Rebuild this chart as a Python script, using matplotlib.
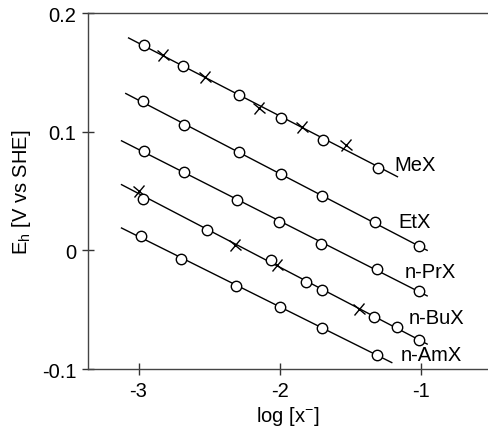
import matplotlib
matplotlib.use("Agg")
import matplotlib.pyplot as plt
import numpy as np
from matplotlib.markers import MarkerStyle
from matplotlib.transforms import Affine2D

plt.rcParams['font.family'] = ['Liberation Sans', 'DejaVu Sans']
plt.rcParams['mathtext.fontset'] = 'custom'
plt.rcParams['mathtext.rm'] = 'Liberation Sans'
plt.rcParams['mathtext.it'] = 'Liberation Sans:italic'

# series names and label anchor points (log x, Eh)
names = ['MeX', 'EtX', 'n-PrX', 'n-BuX', 'n-AmX']
label_x = [-1.19, -1.16, -1.12, -1.09, -1.15]
label_y = [0.072, 0.024, -0.018, -0.057, -0.088]

# fitted line extent per series
line_start = [-3.07, -3.09, -3.12, -3.12, -3.12]
line_end = [-1.17, -0.96, -0.96, -0.96, -1.21]

# open circle points
circ_x = [
    [-2.963, -2.686, -2.288, -1.993, -1.694, -1.307],
    [-2.970, -2.681, -2.292, -1.993, -1.703, -1.327, -1.020],
    [-2.963, -2.681, -2.304, -2.005, -1.710, -1.314, -1.020],
    [-2.968, -2.516, -2.061, -1.814, -1.703, -1.337, -1.173, -1.018],
    [-2.980, -2.698, -2.309, -2.002, -1.703, -1.314],
]
circ_y = [
    [0.1727, 0.1553, 0.1312, 0.1118, 0.0933, 0.0691],
    [0.1255, 0.1059, 0.0828, 0.0640, 0.0455, 0.0238, 0.0034],
    [0.0837, 0.0660, 0.0427, 0.0239, 0.0051, -0.0154, -0.0343],
    [0.0435, 0.0174, -0.0084, -0.0267, -0.0337, -0.0562, -0.0646, -0.0758],
    [0.0118, -0.0070, -0.0303, -0.0478, -0.0651, -0.0879],
]

# cross points
cross_x = [
    [-2.829, -2.532, -2.151, -1.845, -1.534],
    [],
    [],
    [-2.994, -2.316, -2.021, -1.443],
    [],
]
cross_y = [
    [0.1649, 0.1460, 0.1199, 0.1039, 0.0885],
    [],
    [],
    [0.0497, 0.0048, -0.0120, -0.0491],
    [],
]

fig = plt.figure(figsize=(4.88, 4.35), dpi=100)
ax = fig.add_axes([0.1803, 0.1494, 0.8197, 0.8184])

cross = MarkerStyle('x', transform=Affine2D().rotate_deg(10))

for i in range(len(names)):
    xs = np.array(circ_x[i] + cross_x[i])
    ys = np.array(circ_y[i] + cross_y[i])
    k, b = np.polyfit(xs, ys, 1)
    lx = np.array([line_start[i], line_end[i]])
    ax.plot(lx, k * lx + b, color='black', lw=1.0, zorder=2)
    if cross_x[i]:
        ax.plot(cross_x[i], cross_y[i], linestyle='none', marker=cross,
                markersize=8, color='black', mew=1.0, zorder=3)
    ax.plot(circ_x[i], circ_y[i], linestyle='none', marker='o',
            markersize=7.5, markerfacecolor='white', markeredgecolor='black',
            mew=1.0, zorder=4)
    ax.text(label_x[i], label_y[i], names[i], fontsize=14.5,
            ha='left', va='center')

ax.set_xlim(-3.357, -0.53)
ax.set_ylim(-0.1, 0.2)
ax.set_xticks([-3, -2, -1])
ax.set_xticklabels(['-3', '-2', '-1'])
ax.set_yticks([-0.1, 0, 0.1, 0.2])
ax.set_yticklabels(['-0.1', '0', '0.1', '0.2'])
ax.tick_params(direction='inout', length=9, width=1.0, labelsize=14.5,
               color='#333333', pad=4)
ax.spines['right'].set_visible(False)
for s in ['left', 'bottom', 'top']:
    ax.spines[s].set_color('#444444')
    ax.spines[s].set_linewidth(1.0)

ax.set_xlabel(r'log [x$^{\mathrm{-}}$]', fontsize=14.5, labelpad=3)
ax.set_ylabel(r'E$_{\mathrm{h}}$ [V vs SHE]', fontsize=14.5, labelpad=6)

fig.savefig('out.png', dpi=100)
